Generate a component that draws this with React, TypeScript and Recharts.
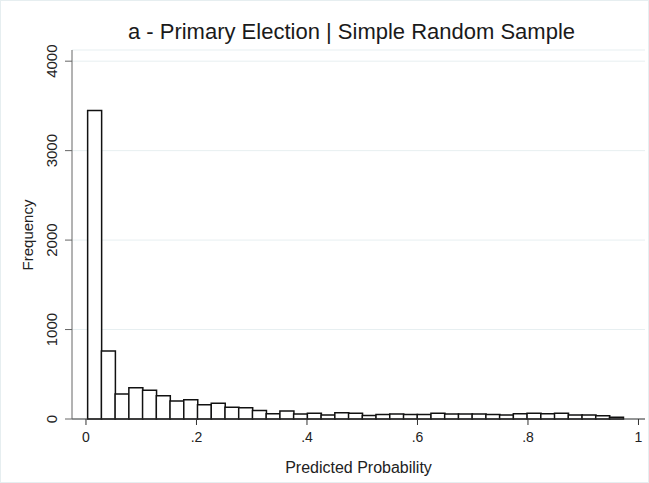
import React from 'react';
import { BarChart, Bar, XAxis, YAxis, CartesianGrid, Label } from 'recharts';

// histogram bins (midpoints of predicted probability) and counts
const binMids = [
  0.0154, 0.0403, 0.0651, 0.09, 0.1148, 0.1397, 0.1645, 0.1894, 0.2142, 0.2391,
  0.264, 0.2888, 0.3137, 0.3385, 0.3634, 0.3882, 0.4131, 0.4379, 0.4628, 0.4876,
  0.5125, 0.5373, 0.5622, 0.5871, 0.6119, 0.6368, 0.6616, 0.6865, 0.7113, 0.7362,
  0.761, 0.7859, 0.8107, 0.8356, 0.8604, 0.8853, 0.9102, 0.935, 0.9599,
];
const frequency = [
  3450, 760, 280, 350, 320, 260, 200, 215, 160, 175,
  130, 125, 95, 60, 90, 55, 65, 45, 70, 65,
  40, 50, 55, 50, 50, 65, 55, 55, 55, 50,
  45, 60, 65, 60, 65, 45, 45, 35, 20,
];
const xTicks = [0, 0.2, 0.4, 0.6, 0.8, 1];
const yTicks = [0, 1000, 2000, 3000, 4000];

const data = binMids.map((p, i) => ({ p, freq: frequency[i] }));

const FONT = '"Liberation Sans", Arial, sans-serif';

const fmtProb = (v: number) => (v === 0 ? '0' : v === 1 ? '1' : String(v).replace(/^0/, ''));

const YTick = (props: any) => {
  const { x, y, payload } = props;
  return (
    <text
      x={x}
      y={y}
      transform={`rotate(-90, ${x}, ${y})`}
      textAnchor="middle"
      fontFamily={FONT}
      fontSize={15}
      fill="#222"
    >
      {payload.value}
    </text>
  );
};

const App: React.FC = () => {
  return (
    <div
      style={{
        position: 'absolute',
        left: 0,
        top: 0,
        width: 649,
        height: 483,
        background: '#fff',
        boxShadow: 'inset 0 0 0 1px #e6eef0',
      }}
    >
      <div
        style={{
          position: 'absolute',
          left: 0,
          width: 703,
          top: 19,
          textAlign: 'center',
          fontFamily: FONT,
          fontSize: 22,
          color: '#1a1a1a',
          whiteSpace: 'nowrap',
        }}
      >
        a - Primary Election | Simple Random Sample
      </div>
      <BarChart
        width={649}
        height={483}
        data={data}
        margin={{ top: 50, right: 4, left: 0, bottom: 0 }}
        barCategoryGap={0}
        barGap={0}
      >
        <CartesianGrid horizontal vertical={false} stroke="#e7eff1" />
        <XAxis
          dataKey="p"
          type="number"
          domain={[-0.0253, 1.0118]}
          allowDataOverflow
          ticks={xTicks}
          tickFormatter={fmtProb}
          height={64}
          tickSize={6}
          tickMargin={7}
          stroke="#333"
          tick={{ fill: '#222', fontSize: 14, fontFamily: FONT }}
        >
          <Label
            value="Predicted Probability"
            position="insideBottom"
            offset={10}
            fill="#222"
            fontSize={16}
            fontFamily={FONT}
          />
        </XAxis>
        <YAxis
          type="number"
          domain={[0, 4125]}
          ticks={yTicks}
          width={72}
          tickSize={7}
          tickMargin={8}
          stroke="#666"
          tick={<YTick />}
          interval={0}
        >
          <Label
            content={() => (
              <text
                x={27}
                y={235}
                transform="rotate(-90, 27, 235)"
                textAnchor="middle"
                dominantBaseline="central"
                fontFamily={FONT}
                fontSize={15}
                fill="#222"
              >
                Frequency
              </text>
            )}
          />
        </YAxis>
        <Bar dataKey="freq" fill="#fff" stroke="#111" strokeWidth={1.5} isAnimationActive={false} />
      </BarChart>
    </div>
  );
};

export default App;
